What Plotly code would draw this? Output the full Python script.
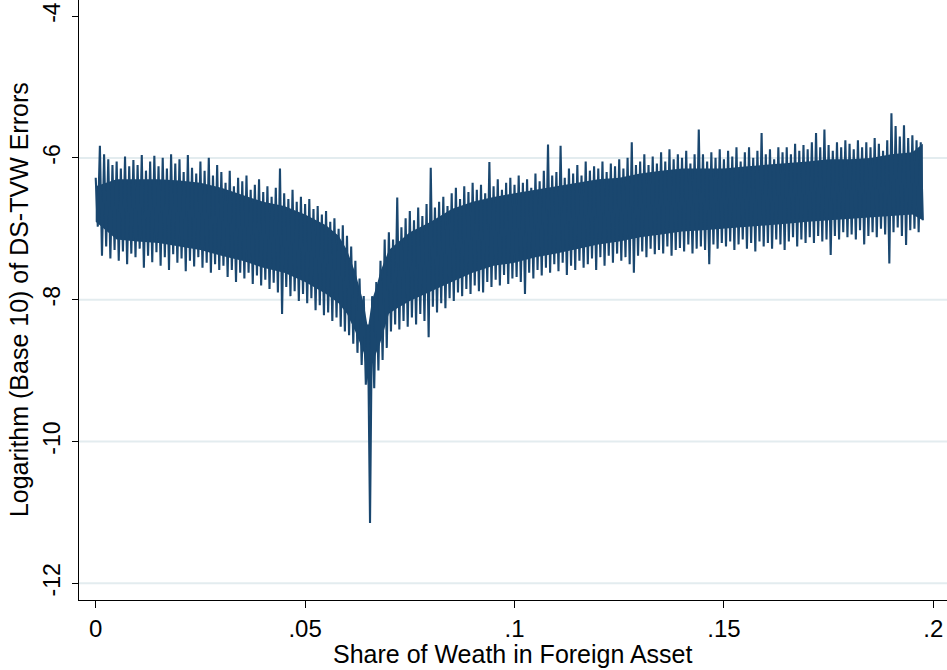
import plotly.graph_objects as go

# x: share of wealth in foreign asset
share = [
    0.0000, 0.0005, 0.0010, 0.0015, 0.0020, 0.0025, 0.0030, 0.0035, 0.0040, 0.0045,
    0.0050, 0.0055, 0.0060, 0.0065, 0.0070, 0.0075, 0.0080, 0.0085, 0.0090, 0.0095,
    0.0100, 0.0105, 0.0110, 0.0115, 0.0120, 0.0125, 0.0130, 0.0135, 0.0140, 0.0145,
    0.0150, 0.0155, 0.0160, 0.0165, 0.0170, 0.0175, 0.0180, 0.0185, 0.0190, 0.0195,
    0.0200, 0.0205, 0.0210, 0.0215, 0.0220, 0.0225, 0.0230, 0.0235, 0.0240, 0.0245,
    0.0250, 0.0255, 0.0260, 0.0265, 0.0270, 0.0275, 0.0280, 0.0285, 0.0290, 0.0295,
    0.0300, 0.0305, 0.0310, 0.0315, 0.0320, 0.0325, 0.0330, 0.0335, 0.0340, 0.0345,
    0.0350, 0.0355, 0.0360, 0.0365, 0.0370, 0.0375, 0.0380, 0.0385, 0.0390, 0.0395,
    0.0400, 0.0405, 0.0410, 0.0415, 0.0420, 0.0425, 0.0430, 0.0435, 0.0440, 0.0445,
    0.0450, 0.0455, 0.0460, 0.0465, 0.0470, 0.0475, 0.0480, 0.0485, 0.0490, 0.0495,
    0.0500, 0.0505, 0.0510, 0.0515, 0.0520, 0.0525, 0.0530, 0.0535, 0.0540, 0.0545,
    0.0550, 0.0555, 0.0560, 0.0565, 0.0570, 0.0575, 0.0580, 0.0585, 0.0590, 0.0595,
    0.0600, 0.0605, 0.0610, 0.0615, 0.0620, 0.0625, 0.0630, 0.0635, 0.0640, 0.0645,
    0.0650, 0.0655, 0.0660, 0.0665, 0.0670, 0.0675, 0.0680, 0.0685, 0.0690, 0.0695,
    0.0700, 0.0705, 0.0710, 0.0715, 0.0720, 0.0725, 0.0730, 0.0735, 0.0740, 0.0745,
    0.0750, 0.0755, 0.0760, 0.0765, 0.0770, 0.0775, 0.0780, 0.0785, 0.0790, 0.0795,
    0.0800, 0.0805, 0.0810, 0.0815, 0.0820, 0.0825, 0.0830, 0.0835, 0.0840, 0.0845,
    0.0850, 0.0855, 0.0860, 0.0865, 0.0870, 0.0875, 0.0880, 0.0885, 0.0890, 0.0895,
    0.0900, 0.0905, 0.0910, 0.0915, 0.0920, 0.0925, 0.0930, 0.0935, 0.0940, 0.0945,
    0.0950, 0.0955, 0.0960, 0.0965, 0.0970, 0.0975, 0.0980, 0.0985, 0.0990, 0.0995,
    0.1000, 0.1005, 0.1010, 0.1015, 0.1020, 0.1025, 0.1030, 0.1035, 0.1040, 0.1045,
    0.1050, 0.1055, 0.1060, 0.1065, 0.1070, 0.1075, 0.1080, 0.1085, 0.1090, 0.1095,
    0.1100, 0.1105, 0.1110, 0.1115, 0.1120, 0.1125, 0.1130, 0.1135, 0.1140, 0.1145,
    0.1150, 0.1155, 0.1160, 0.1165, 0.1170, 0.1175, 0.1180, 0.1185, 0.1190, 0.1195,
    0.1200, 0.1205, 0.1210, 0.1215, 0.1220, 0.1225, 0.1230, 0.1235, 0.1240, 0.1245,
    0.1250, 0.1255, 0.1260, 0.1265, 0.1270, 0.1275, 0.1280, 0.1285, 0.1290, 0.1295,
    0.1300, 0.1305, 0.1310, 0.1315, 0.1320, 0.1325, 0.1330, 0.1335, 0.1340, 0.1345,
    0.1350, 0.1355, 0.1360, 0.1365, 0.1370, 0.1375, 0.1380, 0.1385, 0.1390, 0.1395,
    0.1400, 0.1405, 0.1410, 0.1415, 0.1420, 0.1425, 0.1430, 0.1435, 0.1440, 0.1445,
    0.1450, 0.1455, 0.1460, 0.1465, 0.1470, 0.1475, 0.1480, 0.1485, 0.1490, 0.1495,
    0.1500, 0.1505, 0.1510, 0.1515, 0.1520, 0.1525, 0.1530, 0.1535, 0.1540, 0.1545,
    0.1550, 0.1555, 0.1560, 0.1565, 0.1570, 0.1575, 0.1580, 0.1585, 0.1590, 0.1595,
    0.1600, 0.1605, 0.1610, 0.1615, 0.1620, 0.1625, 0.1630, 0.1635, 0.1640, 0.1645,
    0.1650, 0.1655, 0.1660, 0.1665, 0.1670, 0.1675, 0.1680, 0.1685, 0.1690, 0.1695,
    0.1700, 0.1705, 0.1710, 0.1715, 0.1720, 0.1725, 0.1730, 0.1735, 0.1740, 0.1745,
    0.1750, 0.1755, 0.1760, 0.1765, 0.1770, 0.1775, 0.1780, 0.1785, 0.1790, 0.1795,
    0.1800, 0.1805, 0.1810, 0.1815, 0.1820, 0.1825, 0.1830, 0.1835, 0.1840, 0.1845,
    0.1850, 0.1855, 0.1860, 0.1865, 0.1870, 0.1875, 0.1880, 0.1885, 0.1890, 0.1895,
    0.1900, 0.1905, 0.1910, 0.1915, 0.1920, 0.1925, 0.1930, 0.1935, 0.1940, 0.1945,
    0.1950, 0.1955, 0.1960, 0.1965, 0.1970, 0.1975,
]

# y: log10 of DS-TVW errors
log_error = [
    -6.28, -6.97, -5.83, -7.38, -5.95, -7.25, -6.02, -7.42, -6.10, -7.30,
    -6.05, -7.45, -6.15, -7.32, -5.98, -7.50, -6.12, -7.35, -6.03, -7.40,
    -6.10, -7.28, -5.96, -7.55, -6.18, -7.38, -6.05, -7.47, -5.97, -7.33,
    -6.12, -7.52, -6.00, -7.40, -6.15, -7.58, -5.95, -7.36, -6.08, -7.48,
    -6.02, -7.42, -6.20, -7.60, -5.96, -7.45, -6.14, -7.53, -6.22, -7.40,
    -6.05, -7.55, -6.18, -7.48, -6.00, -7.62, -6.25, -7.50, -6.10, -7.58,
    -6.20, -7.52, -6.35, -7.68, -6.18, -7.58, -6.40, -7.75, -6.28, -7.62,
    -6.33, -7.70, -6.25, -7.62, -6.45, -7.78, -6.38, -7.66, -6.30, -7.80,
    -6.48, -7.72, -6.40, -7.85, -6.55, -7.76, -6.42, -7.90, -6.15, -8.20,
    -6.50, -7.82, -6.58, -7.95, -6.45, -7.88, -6.62, -8.02, -6.55, -7.92,
    -6.65, -8.05, -6.58, -7.98, -6.72, -8.15, -6.68, -8.08, -6.80, -8.22,
    -6.75, -8.18, -6.90, -8.30, -6.85, -8.25, -7.00, -8.38, -6.95, -8.45,
    -7.10, -8.50, -7.25, -8.62, -7.45, -8.75, -7.70, -8.92, -7.95, -9.20,
    -8.35, -11.15, -7.95, -9.25, -7.75, -9.00, -7.45, -8.85, -7.15, -8.68,
    -7.05, -8.45, -7.15, -8.35, -6.56, -8.42, -6.98, -8.30, -6.85, -8.38,
    -6.75, -8.25, -6.88, -8.35, -6.70, -8.20, -6.82, -8.30, -6.65, -8.53,
    -6.14, -8.10, -6.70, -8.18, -6.62, -8.05, -6.55, -8.12, -6.68, -7.98,
    -6.50, -8.02, -6.42, -7.90, -6.58, -7.95, -6.40, -7.85, -6.48, -7.92,
    -6.35, -7.80, -6.45, -7.88, -6.38, -7.90, -6.50, -7.75, -6.06, -7.82,
    -6.40, -7.72, -6.30, -7.80, -6.45, -7.65, -6.35, -7.78, -6.28, -7.70,
    -6.38, -7.68, -6.25, -7.75, -6.35, -7.92, -6.30, -7.62, -6.42, -7.70,
    -6.22, -7.58, -6.33, -7.66, -6.18, -7.55, -5.81, -7.62, -6.25, -7.50,
    -6.20, -7.60, -5.83, -7.48, -6.28, -7.65, -6.15, -7.52, -6.22, -7.58,
    -6.10, -7.45, -6.25, -7.55, -6.05, -7.50, -6.18, -7.42, -6.12, -7.58,
    -6.15, -7.40, -6.05, -7.52, -6.20, -7.38, -6.08, -7.48, -6.12, -7.35,
    -6.02, -7.45, -6.15, -7.40, -6.00, -7.50, -5.78, -7.62, -6.10, -7.38,
    -6.05, -7.32, -5.95, -7.40, -6.10, -7.28, -5.98, -7.36, -6.08, -7.30,
    -5.92, -7.35, -6.05, -7.25, -5.88, -7.38, -6.02, -7.30, -5.95, -7.27,
    -6.00, -7.32, -5.90, -7.22, -6.08, -7.35, -5.95, -7.28, -5.60, -7.25,
    -5.95, -7.30, -6.05, -7.50, -5.92, -7.22, -6.00, -7.28, -5.88, -7.20,
    -6.02, -7.25, -5.90, -7.18, -5.98, -7.30, -5.85, -7.22, -6.05, -7.15,
    -5.92, -7.28, -5.85, -7.20, -6.00, -7.32, -5.90, -7.18, -5.65, -7.25,
    -5.95, -7.20, -5.88, -7.28, -6.02, -7.15, -5.85, -7.22, -5.92, -7.30,
    -5.85, -7.18, -5.95, -7.12, -5.80, -7.25, -5.90, -7.15, -5.82, -7.20,
    -5.88, -7.12, -5.78, -7.20, -5.65, -7.10, -5.85, -7.18, -5.60, -7.15,
    -5.82, -7.37, -5.90, -7.10, -5.78, -7.15, -5.85, -7.05, -5.75, -7.12,
    -5.80, -7.08, -5.88, -7.15, -5.75, -7.02, -5.85, -7.22, -5.78, -7.10,
    -5.85, -7.05, -5.72, -7.12, -5.80, -7.00, -5.90, -7.08, -5.75, -7.49,
    -5.37, -7.05, -5.55, -6.98, -5.70, -7.10, -5.54, -7.23, -5.72, -7.02,
    -5.68, -7.00, -5.75, -7.05, -5.78, -6.88,
]

# solid core of the error band (where the dense series fills completely)
core_share = [
    0.0000, 0.0050, 0.0100, 0.0150, 0.0200, 0.0250, 0.0300, 0.0350, 0.0400, 0.0450,
    0.0500, 0.0550, 0.0580, 0.0600, 0.0620, 0.0640, 0.0650, 0.0655, 0.0660, 0.0670,
    0.0680, 0.0700, 0.0720, 0.0750, 0.0800, 0.0850, 0.0900, 0.0950, 0.1000, 0.1050,
    0.1100, 0.1150, 0.1200, 0.1250, 0.1300, 0.1350, 0.1400, 0.1450, 0.1500, 0.1550,
    0.1600, 0.1650, 0.1700, 0.1750, 0.1800, 0.1850, 0.1900, 0.1950, 0.1975,
]
core_top = [
    -6.40, -6.30, -6.30, -6.30, -6.32, -6.35, -6.42, -6.52, -6.62, -6.68,
    -6.80, -6.95, -7.10, -7.30, -7.62, -8.05, -8.40, -8.20, -8.00, -7.82,
    -7.60, -7.30, -7.20, -7.05, -6.90, -6.72, -6.62, -6.55, -6.50, -6.45,
    -6.40, -6.35, -6.30, -6.28, -6.22, -6.18, -6.15, -6.15, -6.15, -6.12,
    -6.10, -6.07, -6.05, -6.02, -6.02, -6.00, -5.95, -5.92, -5.80,
]
core_bottom = [
    -6.90, -7.15, -7.18, -7.20, -7.25, -7.30, -7.38, -7.45, -7.55, -7.62,
    -7.75, -7.92, -8.05, -8.20, -8.45, -8.75, -9.20, -9.70, -8.90, -8.75,
    -8.60, -8.20, -8.12, -8.02, -7.88, -7.75, -7.62, -7.52, -7.48, -7.40,
    -7.35, -7.28, -7.22, -7.18, -7.12, -7.08, -7.04, -7.02, -7.00, -6.98,
    -6.95, -6.93, -6.90, -6.88, -6.87, -6.85, -6.82, -6.80, -6.88,
]

x_tick_vals = [0, 0.05, 0.1, 0.15, 0.2]
x_tick_text = ["0", ".05", ".1", ".15", ".2"]
y_tick_vals = [-12, -10, -8, -6, -4]
y_tick_text = ["-12", "-10", "-8", "-6", "-4"]
y_grid_vals = [-12, -10, -8, -6]

x_title = "Share of Weath in Foreign Asset"
y_title = "Logarithm (Base 10) of DS-TVW Errors"

NAVY = "#1a476f"
GRID = "#e3ecef"
FONT = "Liberation Sans, Arial, sans-serif"

fig = go.Figure()
fig.add_trace(go.Scatter(
    x=core_share, y=core_bottom, mode="lines", line=dict(width=0, color=NAVY),
    showlegend=False, hoverinfo="skip",
))
fig.add_trace(go.Scatter(
    x=core_share, y=core_top, mode="lines", line=dict(width=0, color=NAVY),
    fill="tonexty", fillcolor=NAVY, showlegend=False, hoverinfo="skip",
))
fig.add_trace(go.Scatter(
    x=share, y=log_error, mode="lines",
    line=dict(color=NAVY, width=2.1, simplify=False),
    showlegend=False, hoverinfo="skip",
))

for g in y_grid_vals:
    fig.add_shape(type="line", xref="paper", yref="y", x0=0, x1=1, y0=g, y1=g,
                  line=dict(color=GRID, width=2), layer="below")

fig.add_annotation(text=x_title, xref="paper", yref="paper", x=0.5, y=-0.09,
                   xanchor="center", yanchor="middle", showarrow=False,
                   font=dict(size=25, family=FONT, color="black"))
fig.add_annotation(text=y_title, xref="paper", yref="paper", x=-0.069, y=0.5,
                   xanchor="center", yanchor="middle", showarrow=False, textangle=-90,
                   font=dict(size=25, family=FONT, color="black"))

fig.update_layout(
    width=947, height=670,
    margin=dict(l=79, r=0, t=0, b=70, pad=0),
    paper_bgcolor="white", plot_bgcolor="white",
    font=dict(family=FONT, color="black"),
    xaxis=dict(
        range=[-0.00399, 0.20327], automargin=False,
        showline=True, linecolor="black", linewidth=1.3,
        ticks="outside", ticklen=7, tickwidth=1.3, tickcolor="black",
        tickvals=x_tick_vals, ticktext=x_tick_text,
        tickfont=dict(size=24, family=FONT),
        showgrid=False, zeroline=False,
    ),
    yaxis=dict(
        range=[-12.236, -3.773], automargin=False,
        showline=True, linecolor="black", linewidth=1.3,
        ticks="outside", ticklen=6, tickwidth=1.3, tickcolor="black",
        tickvals=y_tick_vals, ticktext=y_tick_text, tickangle=-90,
        tickfont=dict(size=23, family=FONT), ticklabelstandoff=3,
        showgrid=False, zeroline=False,
    ),
)

fig.write_html("out.html", config={"displayModeBar": False},
               post_script="document.body.style.margin='0';")
